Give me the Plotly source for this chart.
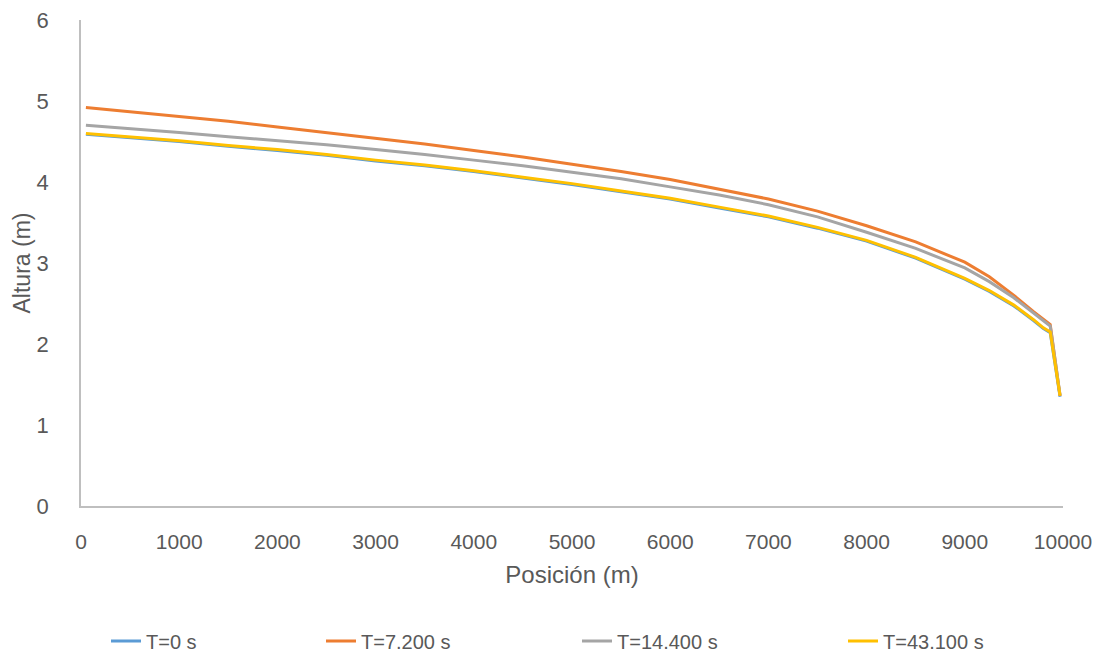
import plotly.graph_objects as go

# Water-surface profiles along the channel at four instants
posicion = [50, 500, 1000, 1500, 2000, 2500, 3000, 3500, 4000, 4500, 5000, 5500,
            6000, 6500, 7000, 7500, 8000, 8500, 9000, 9250, 9500, 9700, 9800, 9870, 9970]

altura_t0 = [4.59, 4.55, 4.50, 4.44, 4.39, 4.33, 4.26, 4.20, 4.13, 4.05, 3.97, 3.88,
             3.79, 3.68, 3.57, 3.43, 3.27, 3.06, 2.80, 2.65, 2.47, 2.29, 2.19, 2.14, 1.35]
altura_t7200 = [4.92, 4.87, 4.81, 4.75, 4.68, 4.61, 4.54, 4.47, 4.39, 4.31, 4.22, 4.13,
                4.03, 3.91, 3.79, 3.64, 3.46, 3.26, 3.01, 2.83, 2.60, 2.40, 2.30, 2.24, 1.36]
altura_t14400 = [4.70, 4.66, 4.61, 4.56, 4.51, 4.46, 4.40, 4.34, 4.27, 4.20, 4.12, 4.04,
                 3.94, 3.84, 3.72, 3.57, 3.38, 3.18, 2.94, 2.77, 2.57, 2.38, 2.28, 2.22, 1.37]
altura_t43100 = [4.60, 4.56, 4.51, 4.45, 4.40, 4.34, 4.27, 4.21, 4.14, 4.06, 3.98, 3.89,
                 3.80, 3.69, 3.58, 3.44, 3.28, 3.07, 2.81, 2.66, 2.48, 2.30, 2.20, 2.15, 1.36]

series = [
    ("T=0 s", altura_t0, "#5B9BD5", "legend"),
    ("T=7.200 s", altura_t7200, "#ED7D31", "legend2"),
    ("T=14.400 s", altura_t14400, "#A5A5A5", "legend3"),
    ("T=43.100 s", altura_t43100, "#FFC000", "legend4"),
]

x_ticks = list(range(0, 10001, 1000))
x_ticktext = [str(v) for v in x_ticks]
y_ticks = [0, 1, 2, 3, 4, 5, 6]

FONT = "Liberation Sans, Arial, sans-serif"
TXT = "#595959"
W, H = 1101, 660

fig = go.Figure()
for name, vals, color, leg in series:
    fig.add_trace(go.Scatter(
        x=posicion, y=vals, name=name, mode="lines",
        line=dict(color=color, width=3),
        legend=leg, showlegend=True,
    ))

def legend_at(px):
    return dict(
        xref="container", yref="container",
        x=px / W, y=1 - 641 / H,
        xanchor="left", yanchor="middle",
        orientation="h", bgcolor="rgba(0,0,0,0)",
        font=dict(family=FONT, size=20, color=TXT),
        itemwidth=30,
    )

fig.update_layout(
    width=W, height=H,
    margin=dict(l=81, r=38, t=20, b=154, autoexpand=False),
    paper_bgcolor="white", plot_bgcolor="white",
    font=dict(family=FONT, color=TXT),
    showlegend=True,
    legend=legend_at(106),
    legend2=legend_at(321),
    legend3=legend_at(577),
    legend4=legend_at(843),
    xaxis=dict(
        range=[0, 10000], tickvals=x_ticks, ticktext=x_ticktext,
        automargin=False,
        showgrid=False, zeroline=False,
        showline=True, linecolor="#BFBFBF", linewidth=1.5,
        ticks="", ticklabelstandoff=16,
        tickfont=dict(family=FONT, size=21, color=TXT),
        title=dict(text="Posición (m)", font=dict(family=FONT, size=24, color=TXT), standoff=14),
    ),
    yaxis=dict(
        range=[0, 6], tickvals=y_ticks,
        automargin=False,
        showgrid=False, zeroline=False,
        showline=True, linecolor="#BFBFBF", linewidth=1.5,
        ticks="", ticklabelstandoff=26,
        tickfont=dict(family=FONT, size=22, color=TXT),
        title=dict(text="Altura (m)", font=dict(family=FONT, size=23, color=TXT), standoff=0),
    ),
)

fig.write_html("out.html")
